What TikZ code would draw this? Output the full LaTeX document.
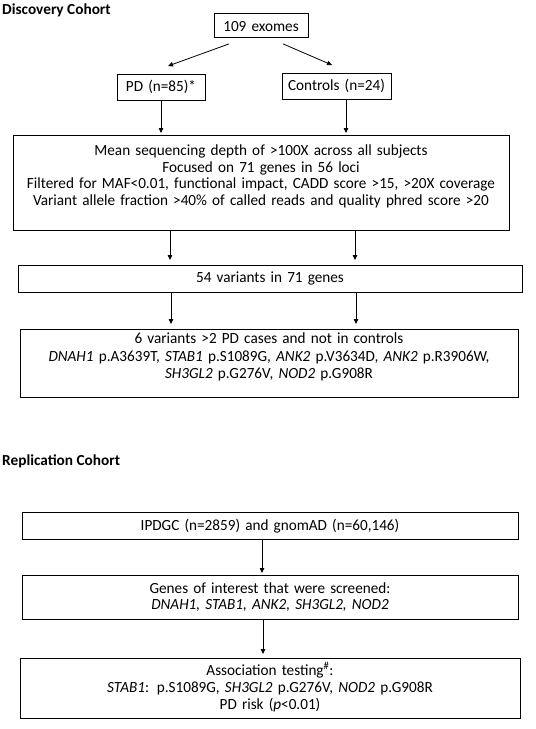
\documentclass[tikz,border=0pt]{standalone}
\usepackage{fontspec}
\setmainfont{Carlito}[FakeStretch=0.98]
\newfontfamily\ttlfont{Carlito}
\usetikzlibrary{arrows.meta}
\begin{document}
\begin{tikzpicture}[x=1pt,y=-1pt,
  box/.style={draw, line width=0.9pt, align=center, inner sep=0pt, anchor=north,
    font=\fontsize{15.5}{16.8}\selectfont},
  arr/.style={line width=0.8pt, -{Triangle[length=5pt,width=4.5pt]}},
  ttl/.style={font=\ttlfont\fontsize{15.3}{17}\selectfont\bfseries, inner sep=0pt, anchor=base west}]
\useasboundingbox (0,0) rectangle (536,729);
\node[ttl] (t1) at (2,14) {Discovery Cohort};
\node[ttl] (t2) at (2,465) {Replication Cohort};
\node[box, text width=94pt, text height=18pt, text depth=6pt] (ex) at (261,13) {109 exomes};
\node[box, text width=88pt, text height=17pt, text depth=9pt] (pd) at (161,74) {PD (n=85)*};
\node[box, text width=109pt, text height=17.5pt, text depth=8.5pt] (ctrl) at (336.5,73) {Controls (n=24)};
\node[box, text width=496pt, text height=20pt, text depth=75pt,
  font=\fontsize{15.5}{16.7}\selectfont] (big) at (261,135) {Mean sequencing depth of >100X across all subjects\\
Focused on 71 genes in 56 loci\\
Filtered for MAF<0.01, functional impact, CADD score >15, >20X coverage\\
Variant allele fraction >40\% of called reads and quality phred score >20};
\node[box, text width=504pt, text height=16.7pt, text depth=10.3pt] (v54) at (270,265) {54 variants in 71 genes};
\node[box, text width=498pt, text height=14.5pt, text depth=53.5pt,
  font=\fontsize{15.5}{17.5}\selectfont] (v6) at (269,329) {6 variants >2 PD cases and not in controls\\
\textit{DNAH1} p.A3639T, \textit{STAB1} p.S1089G, \textit{ANK2} p.V3634D, \textit{ANK2} p.R3906W,\\
\textit{SH3GL2} p.G276V, \textit{NOD2} p.G908R};
\node[box, text width=496pt, text height=18pt, text depth=8.5pt] (ip) at (270,512) {IPDGC (n=2859) and gnomAD (n=60,146)};
\node[box, text width=496pt, text height=17.7pt, text depth=26.3pt,
  font=\fontsize{15.5}{16}\selectfont] (genes) at (270,575) {Genes of interest that were screened:\\
\textit{DNAH1, STAB1, ANK2, SH3GL2, NOD2}};
\node[box, text width=500pt, text height=16.6pt, text depth=42.9pt,
  font=\fontsize{15.5}{17}\selectfont] (assoc) at (270,658) {Association testing\textsuperscript{\#}:\\
\textit{STAB1}: p.S1089G, \textit{SH3GL2} p.G276V, \textit{NOD2} p.G908R\\
PD risk (\textit{p}<0.01)};
% arrows
\draw[arr] ([xshift=-32pt,yshift=-6pt]ex.south) -- ([xshift=7pt,yshift=8pt]pd.north);
\draw[arr] ([xshift=22pt,yshift=-6pt]ex.south) -- ([xshift=-4.5pt,yshift=8pt]ctrl.north);
\draw[arr] (pd.south) -- ([yshift=2pt]pd.south |- big.north);
\draw[arr] ([xshift=9.5pt]ctrl.south) -- ([xshift=9.5pt,yshift=2pt]ctrl.south |- big.north);
\draw[arr] ([xshift=-91pt]big.south) -- ([xshift=-91pt,yshift=5pt]big.south |- v54.north);
\draw[arr] ([xshift=94pt]big.south) -- ([xshift=94pt,yshift=5pt]big.south |- v54.north);
\draw[arr] ([xshift=-99pt]v54.south) -- ([xshift=-99pt,yshift=5pt]v54.south |- v6.north);
\draw[arr] ([xshift=86pt]v54.south) -- ([xshift=86pt,yshift=5pt]v54.south |- v6.north);
\draw[arr] ([xshift=-8pt]ip.south) -- ([xshift=-8pt,yshift=2pt]ip.south |- genes.north);
\draw[arr] ([xshift=-7pt]genes.south) -- ([xshift=-7pt,yshift=4pt]genes.south |- assoc.north);
\end{tikzpicture}
\end{document}
